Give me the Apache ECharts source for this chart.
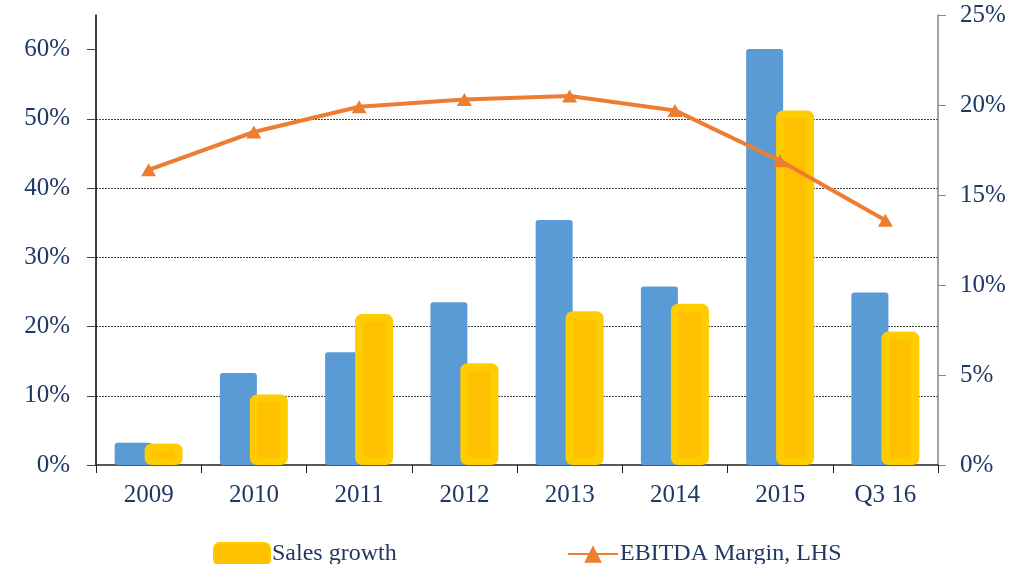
<!DOCTYPE html>
<html>
<head>
<meta charset="utf-8">
<script src="https://cdn.jsdelivr.net/npm/echarts@6/dist/echarts.min.js"></script>
<style>
  html, body { margin: 0; padding: 0; background: #fff; }
  #chart { width: 1035px; height: 564px; }
</style>
</head>
<body>
<div id="chart"></div>
<script>
// 年份
var years = ['2009', '2010', '2011', '2012', '2013', '2014', '2015', 'Q3 16'];
// 蓝色柱（无图例）
var blueBars = [3.2, 13.3, 16.3, 23.5, 35.4, 25.8, 60.1, 24.9];
// Sales growth
var salesGrowth = [3.1, 10.2, 21.8, 14.7, 22.2, 23.3, 51.2, 19.3];
// EBITDA Margin, LHS (右轴)
var ebitdaMargin = [16.4, 18.5, 19.9, 20.3, 20.5, 19.7, 16.9, 13.6];
// 刻度
var leftTicks = [0, 10, 20, 30, 40, 50, 60];
var rightTicks = [0, 5, 10, 15, 20, 25];

var textColor = '#1F3864';
var fontFam = '"Liberation Serif", "Times New Roman", serif';

var myChart = echarts.init(document.getElementById('chart'));
var option = {
    animation: false,
    grid: { left: 96, right: 97, top: 15, bottom: 99 },
    legend: [
        {
            data: ['Sales growth'],
            left: 208, top: 537,
            itemWidth: 56, itemHeight: 22,
            itemGap: 0,
            textStyle: { color: textColor, fontFamily: fontFam, fontSize: 24, padding: [0, 0, 0, -3] }
        },
        {
            data: ['EBITDA Margin, LHS'],
            left: 562, top: 537,
            itemWidth: 50, itemHeight: 22,
            textStyle: { color: textColor, fontFamily: fontFam, fontSize: 24, padding: [0, 0, 0, -3] }
        }
    ],
    xAxis: {
        type: 'category',
        data: years,
        axisLine: { lineStyle: { color: '#222', width: 1.5 } },
        axisTick: { show: true, length: 8, lineStyle: { color: '#222' } },
        axisLabel: { color: textColor, fontFamily: fontFam, fontSize: 25, margin: 18 }
    },
    yAxis: [
        {
            type: 'value',
            min: 0, max: 65, interval: 10,
            axisLine: { show: true, lineStyle: { color: '#000', width: 1.5 } },
            axisTick: { show: true, length: 9, customValues: leftTicks, lineStyle: { color: '#444' } },
            axisLabel: {
                customValues: leftTicks,
                color: textColor, fontFamily: fontFam, fontSize: 25, margin: 26,
                formatter: '{value}%'
            },
            splitLine: {
                show: true, showMinLine: false, showMaxLine: false,
                lineStyle: { color: '#444', type: [2, 1], width: 1 }
            }
        },
        {
            type: 'value',
            min: 0, max: 25, interval: 5,
            position: 'right',
            axisLine: { show: true, lineStyle: { color: '#868686', width: 1.5 } },
            axisTick: { show: true, length: 8, lineStyle: { color: '#868686' } },
            axisLabel: {
                customValues: rightTicks,
                color: textColor, fontFamily: fontFam, fontSize: 25, margin: 22,
                formatter: '{value}%'
            },
            splitLine: { show: false }
        }
    ],
    series: [
        {
            name: 'Sales',
            type: 'bar',
            data: blueBars,
            barWidth: 37,
            barGap: '-19%',
            itemStyle: { color: '#5B9BD5', borderRadius: 3 }
        },
        {
            name: 'Sales growth',
            type: 'bar',
            data: salesGrowth,
            barWidth: 38,
            barGap: '-19%',
            itemStyle: { color: '#FFC000', borderColor: '#FFCC00', borderWidth: 8, borderRadius: 3 }
        },
        {
            name: 'EBITDA Margin, LHS',
            type: 'line',
            yAxisIndex: 1,
            data: ebitdaMargin,
            symbol: 'triangle',
            symbolSize: [15, 13],
            lineStyle: { color: '#ED7D31', width: 4 },
            itemStyle: { color: '#ED7D31' },
            z: 5
        }
    ]
};
myChart.setOption(option);
</script>
</body>
</html>
